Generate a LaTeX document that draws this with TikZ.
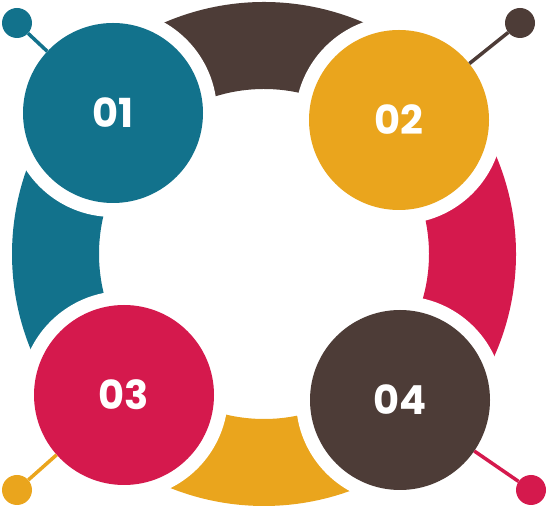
\documentclass[tikz,border=0pt]{standalone}
\usepackage{fontspec}
\setmainfont{Poppins}
\definecolor{cteal}{HTML}{12728C}
\definecolor{cbrown}{HTML}{4D3C37}
\definecolor{cyellow}{HTML}{EAA51D}
\definecolor{ccrimson}{HTML}{D5194D}
\begin{document}
\begin{tikzpicture}[x=1pt,y=1pt,
  numcircle/.style={circle, minimum size=180pt, inner sep=0pt, text=white,
    font=\bfseries\fontsize{40}{40}\selectfont},
  dotnode/.style={circle, minimum size=30pt, inner sep=0pt},
  link/.style={line width=3.5pt}]
\useasboundingbox (0,0) rectangle (548,510);
\coordinate (c) at (264,256);
\coordinate (p1) at (113,397);
\coordinate (p2) at (399,390);
\coordinate (p3) at (124,115);
\coordinate (p4) at (400,110);
% ring sectors
\fill[cbrown] ([shift={(45:252pt)}]c) arc[start angle=45,end angle=137,radius=252pt]
  -- ([shift={(137:165pt)}]c) arc[start angle=137,end angle=45,radius=165pt] -- cycle;
\fill[cteal] ([shift={(137:252pt)}]c) arc[start angle=137,end angle=225,radius=252pt]
  -- ([shift={(225:165pt)}]c) arc[start angle=225,end angle=137,radius=165pt] -- cycle;
\fill[cyellow] ([shift={(225:252pt)}]c) arc[start angle=225,end angle=313,radius=252pt]
  -- ([shift={(313:165pt)}]c) arc[start angle=313,end angle=225,radius=165pt] -- cycle;
\fill[ccrimson] ([shift={(-47:252pt)}]c) arc[start angle=-47,end angle=45,radius=252pt]
  -- ([shift={(45:165pt)}]c) arc[start angle=45,end angle=-47,radius=165pt] -- cycle;
% white halos
\foreach \p in {p1,p2,p3,p4} \fill[white] (\p) circle (104pt);
% number circles
\node[numcircle, fill=cteal] (n1) at (p1) {01};
\node[numcircle, fill=cyellow] (n2) at (p2) {02};
\node[numcircle, fill=ccrimson] (n3) at (p3) {03};
\node[numcircle, fill=cbrown] (n4) at (p4) {04};
% dots
\node[dotnode, fill=cteal] (d1) at (17,487) {};
\node[dotnode, fill=cbrown] (d2) at (520,487) {};
\node[dotnode, fill=cyellow] (d3) at (17,20) {};
\node[dotnode, fill=ccrimson] (d4) at (531,20) {};
\draw[link, cteal] (d1) -- (n1);
\draw[link, cbrown] (d2) -- (n2);
\draw[link, cyellow] (d3) -- (n3);
\draw[link, ccrimson] (d4) -- (n4);
\end{tikzpicture}
\end{document}
